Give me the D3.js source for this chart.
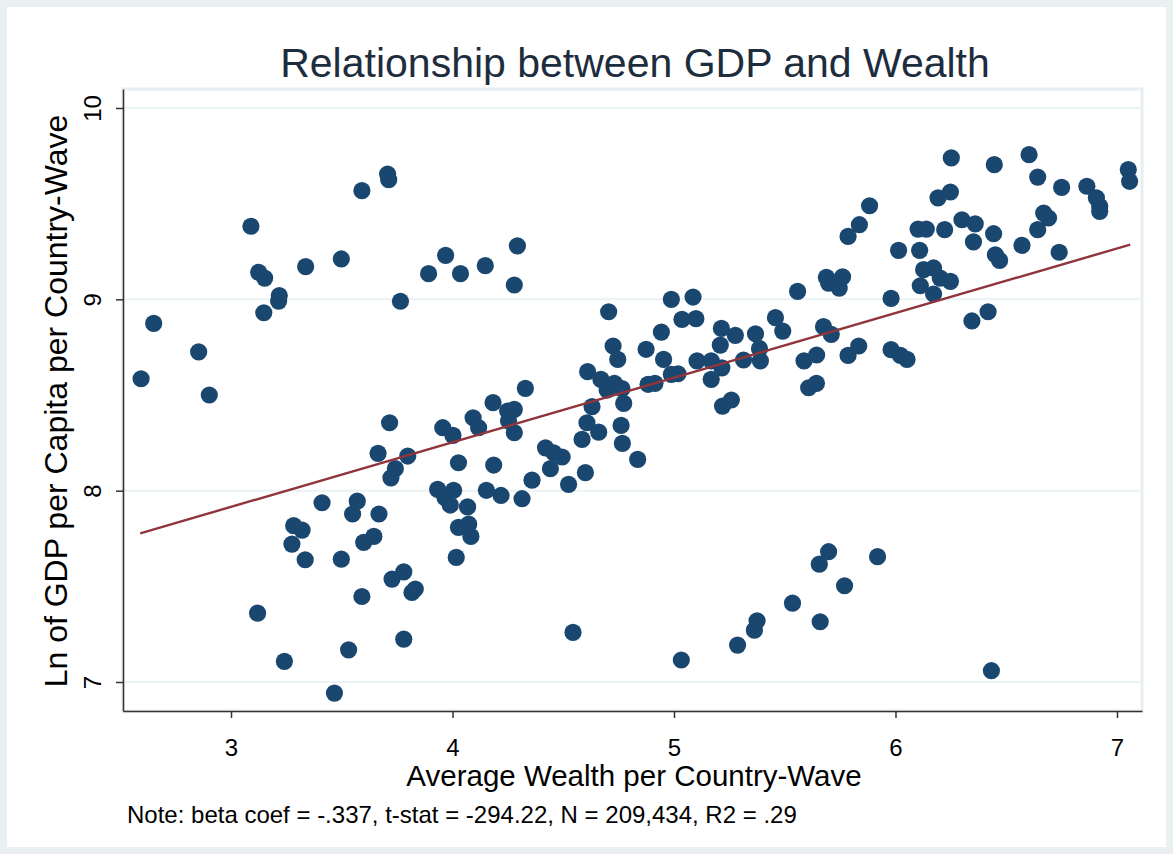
<!DOCTYPE html>
<html>
<head>
<meta charset="utf-8">
<script src="https://cdn.jsdelivr.net/npm/d3@7"></script>
<style>
  html, body { margin: 0; padding: 0; background: #ffffff; }
  svg text { font-family: "Liberation Sans", Arial, sans-serif; }
</style>
</head>
<body>
<svg id="chart" width="1173" height="854"></svg>
<script>
// Average wealth (x) and log GDP per capita (y), one pair per country-wave
const wealth = [
  3.090, 3.591, 3.707, 3.712, 3.125, 3.152, 3.337, 3.498, 3.218, 3.215,
  3.148, 3.969, 3.892, 4.036, 4.148, 4.293, 4.279, 3.765, 5.883, 5.837,
  5.786, 5.688, 5.761, 5.698, 5.746, 5.558, 4.988, 5.086, 6.252, 6.446,
  6.603, 7.051, 7.057, 6.642, 6.750, 6.864, 6.907, 6.922, 6.922, 6.248,
  6.192, 6.669, 6.691, 6.300, 6.360, 6.102, 6.139, 6.222, 6.443, 6.642,
  6.352, 6.014, 6.109, 6.571, 6.451, 6.470, 6.739, 6.127, 6.172, 6.202,
  6.248, 6.112, 6.172, 5.980, 2.651, 2.594, 2.854, 2.902, 3.664, 3.411,
  3.570, 4.705, 4.725, 4.746, 4.610, 4.670, 4.731, 4.765, 4.698, 4.773,
  4.630, 4.329, 4.183, 4.249, 4.279, 4.253, 4.279, 4.093, 4.118, 3.956,
  4.002, 3.716, 4.607, 4.660, 4.585, 4.761, 4.767, 3.798, 3.742, 3.722,
  4.027, 4.186, 4.420, 4.457, 4.495, 4.442, 4.359, 4.524, 4.600, 3.933,
  4.005, 3.966, 4.068, 4.153, 4.219, 4.314, 3.668, 3.645, 3.990, 4.027,
  4.073, 4.083, 4.017, 3.727, 3.780, 3.817, 3.832, 3.780, 4.544, 3.283,
  3.321, 3.275, 3.335, 3.498, 3.549, 3.599, 3.591, 3.120, 3.531, 3.241,
  3.467, 5.033, 5.287, 5.375, 5.363, 5.535, 5.660, 5.698, 5.656, 5.770,
  5.919, 6.433, 5.036, 5.099, 4.943, 5.214, 5.277, 5.209, 5.368, 5.458,
  5.491, 5.675, 5.710, 4.874, 4.953, 4.988, 5.018, 4.883, 4.914, 5.104,
  5.168, 5.216, 5.168, 5.314, 5.386, 5.390, 5.587, 5.644, 5.608, 5.643,
  5.786, 5.834, 5.980, 5.219, 5.259, 4.836, 6.345, 6.418, 6.022, 6.052
];
const lnGdp = [
  9.382, 9.568, 9.655, 9.625, 9.141, 9.111, 9.171, 9.211, 9.020, 8.991,
  8.930, 9.230, 9.134, 9.134, 9.176, 9.279, 9.075, 8.990, 9.489, 9.390,
  9.329, 9.115, 9.117, 9.085, 9.059, 9.042, 9.000, 9.012, 9.739, 9.704,
  9.756, 9.678, 9.617, 9.639, 9.585, 9.591, 9.530, 9.486, 9.460, 9.561,
  9.530, 9.451, 9.425, 9.416, 9.394, 9.367, 9.367, 9.364, 9.343, 9.364,
  9.300, 9.256, 9.256, 9.282, 9.233, 9.204, 9.246, 9.155, 9.164, 9.111,
  9.094, 9.071, 9.028, 9.005, 8.874, 8.585, 8.725, 8.500, 8.195, 7.937,
  7.945, 8.935, 8.756, 8.686, 8.622, 8.582, 8.561, 8.533, 8.526, 8.456,
  8.439, 8.535, 8.460, 8.416, 8.425, 8.364, 8.303, 8.381, 8.329, 8.329,
  8.289, 8.355, 8.355, 8.306, 8.268, 8.341, 8.247, 8.181, 8.115, 8.067,
  8.146, 8.134, 8.224, 8.198, 8.176, 8.115, 8.055, 8.033, 8.094, 8.007,
  8.002, 7.964, 7.915, 8.002, 7.975, 7.958, 7.878, 7.761, 7.925, 7.808,
  7.825, 7.761, 7.651, 7.538, 7.576, 7.468, 7.486, 7.224, 7.259, 7.817,
  7.794, 7.721, 7.639, 7.642, 7.878, 7.730, 7.447, 7.360, 7.168, 7.108,
  6.942, 7.115, 7.193, 7.320, 7.271, 7.412, 7.315, 7.681, 7.616, 7.503,
  7.655, 7.059, 8.895, 8.899, 8.829, 8.848, 8.812, 8.761, 8.820, 8.904,
  8.834, 8.857, 8.817, 8.739, 8.686, 8.608, 8.611, 8.556, 8.561, 8.678,
  8.678, 8.642, 8.582, 8.683, 8.742, 8.678, 8.678, 8.709, 8.538, 8.561,
  8.707, 8.756, 8.737, 8.442, 8.474, 8.164, 8.887, 8.935, 8.707, 8.686
];

// Fitted line end points (linear fit over the x range)
const fitWealth = [2.59, 7.06];
const fitLnGdp = [7.777, 9.286];

const xTicks = [3, 4, 5, 6, 7];
const yTicks = [7, 8, 9, 10];

const titleText = "Relationship between GDP and Wealth";
const xTitle = "Average Wealth per Country-Wave";
const yTitle = "Ln of GDP per Capita per Country-Wave";
const noteText = "Note: beta coef = -.337, t-stat = -294.22, N = 209,434, R2 = .29";

const W = 1173, H = 854;
const plot = { left: 123, right: 1142, top: 89, bottom: 711 };

const svg = d3.select("#chart");

// outer frame and white graph region
svg.append("rect").attr("x", 0).attr("y", 0).attr("width", W).attr("height", H)
  .attr("fill", "#eaf0f2");
svg.append("rect").attr("x", 7).attr("y", 7).attr("width", W - 14).attr("height", H - 14)
  .attr("fill", "#ffffff");

// plot region with a light outline
svg.append("rect").attr("x", plot.left).attr("y", plot.top)
  .attr("width", plot.right - plot.left).attr("height", plot.bottom - plot.top)
  .attr("fill", "#ffffff").attr("stroke", "#e6eef1").attr("stroke-width", 3);

const x = d3.scaleLinear().domain([2.5124, 7.1129]).range([plot.left, plot.right]);
const y = d3.scaleLinear().domain([6.8485, 10.0993]).range([plot.bottom, plot.top]);

// horizontal grid lines
svg.append("g").selectAll("line").data(yTicks).join("line")
  .attr("x1", plot.left).attr("x2", plot.right)
  .attr("y1", d => y(d)).attr("y2", d => y(d))
  .attr("stroke", "#eaf2f3").attr("stroke-width", 2);

// markers
const pts = wealth.map((w, i) => ({ w, g: lnGdp[i] }));
svg.append("g").selectAll("circle").data(pts).join("circle")
  .attr("cx", d => x(d.w)).attr("cy", d => y(d.g)).attr("r", 8.6)
  .attr("fill", "#1a476f");

// fitted line
svg.append("line")
  .attr("x1", x(fitWealth[0])).attr("y1", y(fitLnGdp[0]))
  .attr("x2", x(fitWealth[1])).attr("y2", y(fitLnGdp[1]))
  .attr("stroke", "#90353b").attr("stroke-width", 2.4);

// axes
const xAxis = d3.axisBottom(x).tickValues(xTicks).tickFormat(d3.format("d"))
  .tickSize(7).tickSizeOuter(0);
const gx = svg.append("g").attr("transform", `translate(0,${plot.bottom})`).call(xAxis);
gx.select(".domain").attr("stroke", "#333").attr("stroke-width", 1.5);
gx.selectAll(".tick line").attr("stroke", "#333").attr("stroke-width", 1.5);
gx.selectAll(".tick text").attr("font-size", 24).attr("fill", "#000")
  .attr("font-family", "Liberation Sans, Arial, sans-serif")
  .attr("y", 45).attr("dy", 0);

const yAxis = d3.axisLeft(y).tickValues(yTicks).tickFormat(d3.format("d"))
  .tickSize(7).tickSizeOuter(0);
const gy = svg.append("g").attr("transform", `translate(${plot.left},0)`).call(yAxis);
gy.select(".domain").attr("stroke", "#333").attr("stroke-width", 1.5);
gy.selectAll(".tick line").attr("stroke", "#333").attr("stroke-width", 1.5);
gy.selectAll(".tick text")
  .attr("font-size", 24).attr("fill", "#000")
  .attr("font-family", "Liberation Sans, Arial, sans-serif")
  .attr("text-anchor", "middle")
  .attr("dy", 0)
  .attr("x", 0)
  .attr("transform", "translate(-22,0) rotate(-90)");

// titles
svg.append("text").attr("x", 635).attr("y", 77).attr("text-anchor", "middle")
  .attr("font-size", 41).attr("fill", "#1e2d3d").text(titleText);
svg.append("text").attr("x", 634).attr("y", 786).attr("text-anchor", "middle")
  .attr("font-size", 29.5).attr("fill", "#000").text(xTitle);
svg.append("text").attr("transform", "translate(67,401) rotate(-90)")
  .attr("text-anchor", "middle").attr("font-size", 32).attr("fill", "#000").text(yTitle);
svg.append("text").attr("x", 127).attr("y", 823)
  .attr("font-size", 24).attr("fill", "#000").text(noteText);
</script>
</body>
</html>
